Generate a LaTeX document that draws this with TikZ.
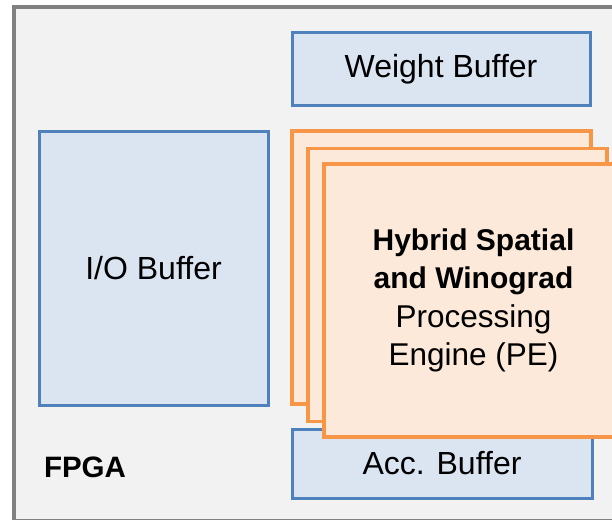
\documentclass[tikz,border=0pt]{standalone}
\usepackage{fontspec}
\setmainfont{Liberation Sans}
\definecolor{frameline}{HTML}{808080}
\definecolor{framefill}{HTML}{F2F2F2}
\definecolor{bufline}{HTML}{4F81BD}
\definecolor{buffill}{HTML}{DBE5F1}
\definecolor{peline}{HTML}{F79646}
\definecolor{pefill}{HTML}{FCE9DA}
\tikzset{
  buffer/.style={draw=bufline, fill=buffill, line width=3pt, rectangle,
    inner sep=0pt, outer sep=0pt, font=\fontsize{32}{39}\selectfont},
  pe/.style={draw=peline, fill=pefill, line width=3.5pt, rectangle,
    inner sep=0pt, outer sep=0pt, minimum width=299pt, minimum height=273pt},
}
\begin{document}
\begin{tikzpicture}[x=1pt,y=-1pt]
  \useasboundingbox (0,0) rectangle (612,519);
  \clip (0,0) rectangle (612,519);
  % FPGA outline
  \draw[frameline, fill=framefill, line width=4pt] (14,7) rectangle (660,520.5);
  \node[font=\fontsize{29.5}{35}\selectfont\bfseries] (fpga) at (85,467) {FPGA};
  % buffers
  \node[buffer, minimum width=298pt, minimum height=72pt] (wbuf) at (441,69) {Weight Buffer};
  \node[buffer, minimum width=229pt, minimum height=274pt] (iobuf) at (153.5,268) {I/O Buffer};
  \node[buffer, minimum width=300pt, minimum height=69pt] (accbuf) at (442,463.5) {Acc. Buffer};
  % stacked processing engines
  \node[pe] (pe1) at (441.5,267.5) {};
  \node[pe] (pe2) at (457.5,285) {};
  \node[pe, align=center, font=\fontsize{31.5}{38.5}\selectfont] (pe3) at (473.5,300.5)
    {{\fontsize{30}{38.5}\selectfont\bfseries Hybrid Spatial}\\{\fontsize{30}{38.5}\selectfont\bfseries and Winograd}\\Processing\\Engine (PE)};
\end{tikzpicture}
\end{document}
